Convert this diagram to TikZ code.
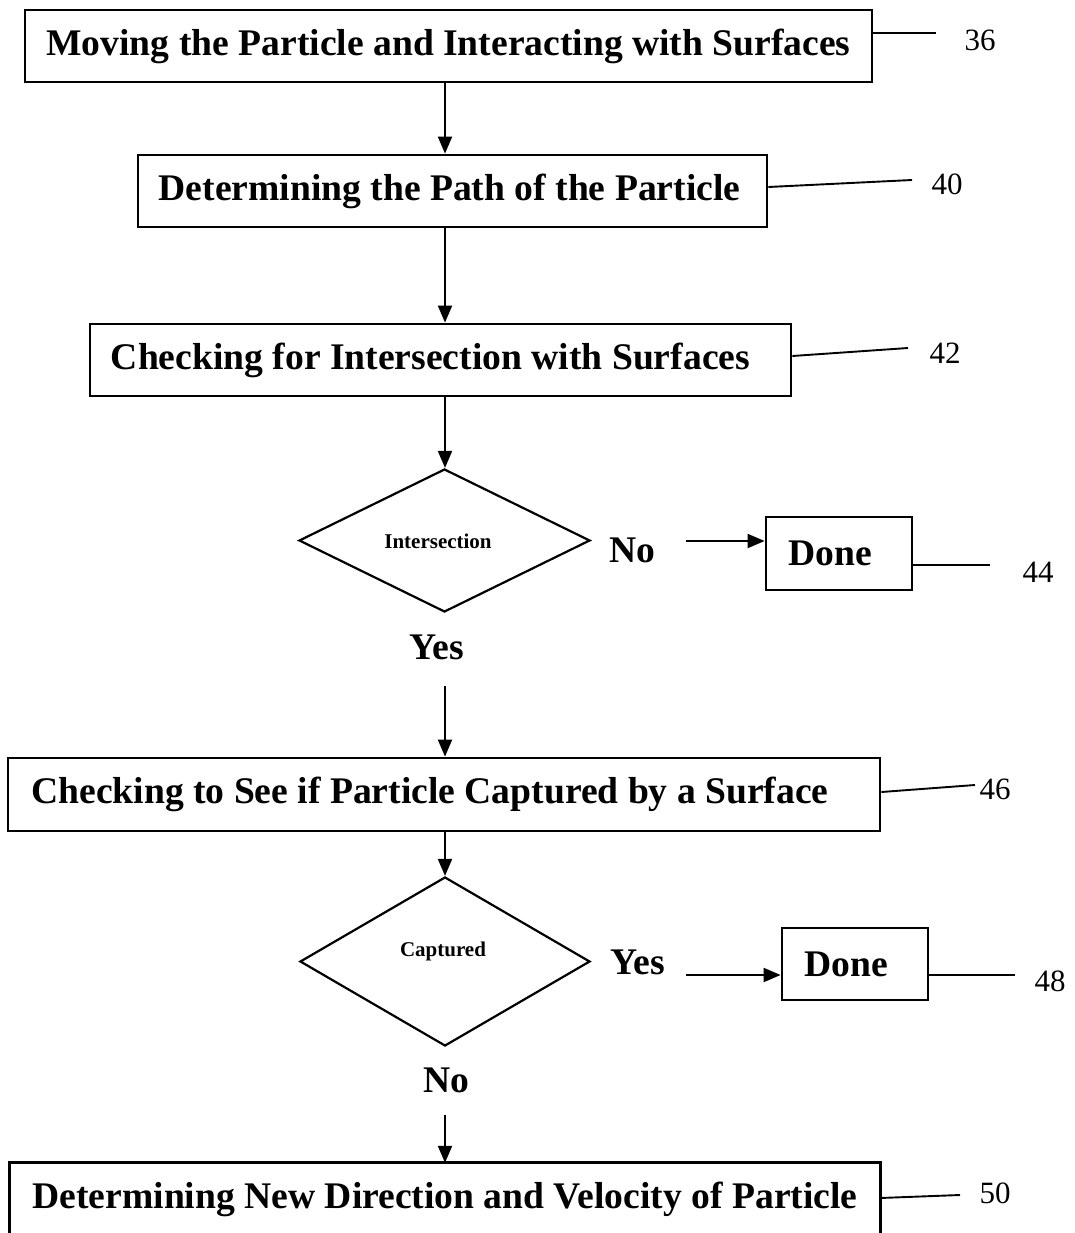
\documentclass[tikz,border=0pt]{standalone}
\usepackage{fontspec}
\setmainfont{Liberation Serif}
\usetikzlibrary{shapes.geometric,arrows.meta}
\tikzset{
  stepbox/.style={draw, line width=2.8pt, inner sep=0pt, font=\fontsize{37.6}{40}\selectfont\bfseries},
  bigtxt/.style={inner sep=0pt, font=\fontsize{37.6}{40}\selectfont\bfseries},
  smalltxt/.style={inner sep=0pt, font=\fontsize{21}{24}\selectfont\bfseries},
  numtxt/.style={inner sep=0pt, font=\fontsize{31}{34}\selectfont},
  decision/.style={draw, diamond, line width=2.2pt, inner sep=0pt},
  arr/.style={line width=2pt, -{Triangle[length=17pt,width=14pt]}},
  lead/.style={line width=1.9pt},
}
\begin{document}
\begin{tikzpicture}[x=1pt,y=-1pt]
\useasboundingbox (0,0) rectangle (1074,1233);
% boxes
\node[stepbox, minimum width=847pt, minimum height=72pt] (b36) at (448.5,46) {Moving the Particle and Interacting with Surfaces};
\node[stepbox, minimum width=629pt, minimum height=72pt] (b40) at (452.5,191) {\hspace*{-6pt}Determining the Path of the Particle};
\node[stepbox, minimum width=701pt, minimum height=72pt] (b42) at (440.5,360) {\hspace*{-20pt}Checking for Intersection with Surfaces};
\node[decision, minimum width=291pt, minimum height=143pt] (d1) at (444.5,540.5) {};
\node[smalltxt] (t1) at (438,541) {Intersection};
\node[bigtxt] (no1) at (632,550) {No};
\node[stepbox, minimum width=146pt, minimum height=73pt] (done1) at (839,553.5) {\hspace*{-18pt}Done};
\node[bigtxt] (yes1) at (437,647) {Yes};
\node[stepbox, minimum width=872pt, minimum height=73pt] (b46) at (444,794.5) {\hspace*{-28pt}Checking to See if Particle Captured by a Surface};
\node[decision, minimum width=290pt, minimum height=169pt] (d2) at (445,961.5) {};
\node[smalltxt] (t2) at (443,951) {Captured};
\node[bigtxt] (yes2) at (638,962) {Yes};
\node[stepbox, minimum width=146pt, minimum height=72pt] (done2) at (855,964) {\hspace*{-18pt}Done};
\node[bigtxt] (no2) at (446,1080) {No};
\node[bigtxt, minimum width=870pt, minimum height=72pt] (b50) at (445,1199) {Determining New Direction and Velocity of Particle};
\draw[line width=2.8pt] ([yshift=-30pt]b50.south west) -- (b50.north west) -- (b50.north east) -- ([yshift=-30pt]b50.south east);
% numbers
\node[numtxt] (n36) at (980,40) {36};
\node[numtxt] (n40) at (947,184) {40};
\node[numtxt] (n42) at (945,353) {42};
\node[numtxt] (n44) at (1038,572) {44};
\node[numtxt] (n46) at (995,789) {46};
\node[numtxt] (n48) at (1050,981) {48};
\node[numtxt] (n50) at (995,1193) {50};
% connector coordinates
\coordinate (c36) at (936,33);
\coordinate (c40) at (912,180);
\coordinate (c42) at (908,348);
\coordinate (c44) at (990,565);
\coordinate (c46) at (975,785);
\coordinate (c48) at (1015,975);
\coordinate (c50) at (960,1195);
\coordinate (s1) at (686,541);
\coordinate (s2) at (686,975);
\coordinate (s3) at (445,686);
\coordinate (s4) at (445,1115);
% leader lines
\draw[lead] (b36.east |- c36) -- (c36);
\draw[lead] (b40.east |- 0,187) -- (c40);
\draw[lead] (b42.east |- 0,356) -- (c42);
\draw[lead] (done1.east |- c44) -- (c44);
\draw[lead] (b46.east |- 0,792) -- (c46);
\draw[lead] (done2.east |- c48) -- (c48);
\draw[lead] (b50.east |- 0,1198) -- (c50);
% arrows
\draw[arr] (b36.south -| s3) -- (b40.north -| s3);
\draw[arr] (b40.south -| s3) -- (b42.north -| s3);
\draw[arr] (b42.south -| s3) -- (d1.north -| s3);
\draw[arr] (s1) -- (s1 -| done1.west);
\draw[arr] (s3) -- (b46.north -| s3);
\draw[arr] (b46.south -| s3) -- (d2.north -| s3);
\draw[arr] (s2) -- (s2 -| done2.west);
\draw[arr] (s4) -- (b50.north -| s4);
\end{tikzpicture}
\end{document}
